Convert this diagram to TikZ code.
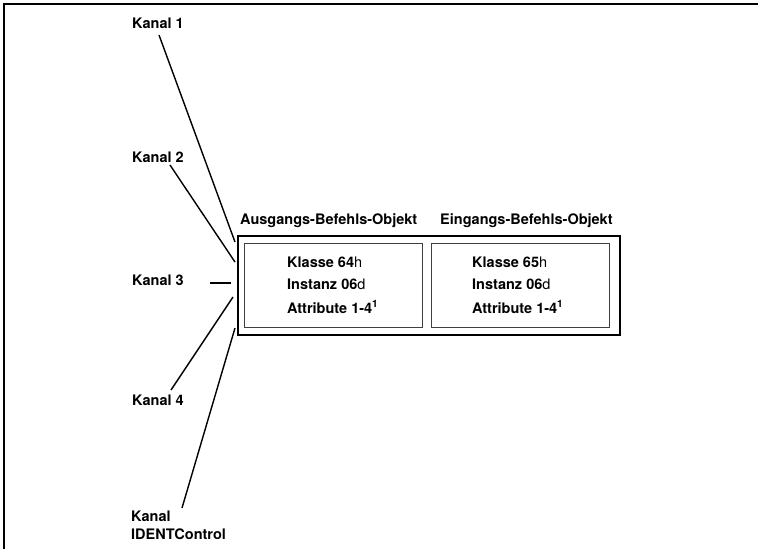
\documentclass[tikz,border=0pt]{standalone}
\usepackage{fontspec}
\setmainfont{TeX Gyre Heros}
\begin{document}
\begin{tikzpicture}[x=1pt,y=-1pt,
    lbl/.style={anchor=base west, inner sep=0pt, font=\fontsize{14.5}{18}\selectfont\bfseries},
    chan/.style={line width=1.4pt},
    objbox/.style={draw=black!75, line width=1pt, inner sep=0pt, minimum width=178pt, minimum height=84pt}]
    \useasboundingbox (0,0) rectangle (758,549);
    % frame, open at right and bottom
    \draw[line width=2pt] (4,549) -- (4,4) -- (758,4);
    % channels
    \node (kanal1) at (132,28) [lbl] {Kanal 1};
    \node (kanal2) at (132,162) [lbl] {Kanal 2};
    \node (kanal3) at (132,285) [lbl] {Kanal 3};
    \node (kanal4) at (132,405) [lbl] {Kanal 4};
    \node (kanal5) at (131,511) [lbl, anchor=north west, align=left] {Kanal\\IDENTControl};
    % objects
    \node (outer) at (429,285.5) [draw, line width=2pt, inner sep=0pt, minimum width=382pt, minimum height=99pt] {};
    \node (ausgang) at (333,285) [objbox] {};
    \node (eingang) at (520,285) [objbox] {};
    \node (tausgang) at (240,224) [lbl] {Ausgangs-Befehls-Objekt};
    \node (teingang) at (440,224) [lbl] {Eingangs-Befehls-Objekt};
    \node (kl64) at (287,267) [lbl] {Klasse 64{\mdseries h}};
    \node (in64) at (287,289) [lbl] {Instanz 06{\mdseries d}};
    \node (at64) at (287,313) [lbl] {Attribute 1-4\textsuperscript{1}};
    \node (kl65) at (472,267) [lbl] {Klasse 65{\mdseries h}};
    \node (in65) at (472,289) [lbl] {Instanz 06{\mdseries d}};
    \node (at65) at (472,313) [lbl] {Attribute 1-4\textsuperscript{1}};
    % connectors
    \coordinate (c1a) at (159,35);  \coordinate (c1b) at (235,242);
    \coordinate (c2a) at (170,165); \coordinate (c2b) at (235,262);
    \coordinate (c3a) at (210,283); \coordinate (c3b) at (231,283);
    \coordinate (c4a) at (171,390); \coordinate (c4b) at (233,297);
    \coordinate (c5a) at (182,508); \coordinate (c5b) at (235,328);
    \draw[chan] (c1a) -- (c1b);
    \draw[chan] (c2a) -- (c2b);
    \draw[chan] (c3a) -- (c3b);
    \draw[chan] (c4a) -- (c4b);
    \draw[chan] (c5a) -- (c5b);
\end{tikzpicture}
\end{document}
